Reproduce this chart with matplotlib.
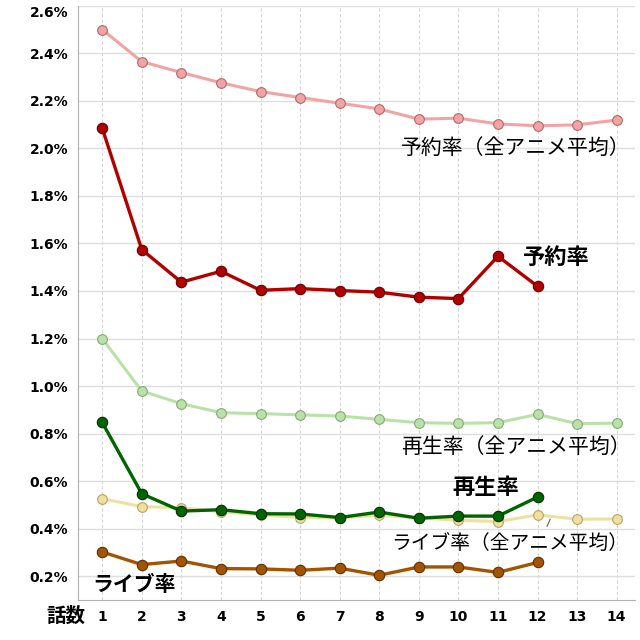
import matplotlib.pyplot as plt
from matplotlib.ticker import FuncFormatter

plt.rcParams['font.family'] = ['DejaVu Sans', 'Noto Sans CJK JP']

# episode numbers
ep_all = list(range(1, 15))
ep_show = list(range(1, 13))

# reservation rate (%)
resv_avg = [2.50, 2.365, 2.319, 2.276, 2.239, 2.214, 2.190, 2.166, 2.123, 2.127, 2.103, 2.095, 2.099, 2.119]
resv = [2.085, 1.574, 1.437, 1.483, 1.403, 1.410, 1.402, 1.395, 1.374, 1.368, 1.546, 1.420]

# play rate (%)
play_avg = [1.200, 0.979, 0.926, 0.888, 0.884, 0.879, 0.874, 0.860, 0.846, 0.843, 0.846, 0.881, 0.842, 0.844]
play = [0.847, 0.547, 0.474, 0.480, 0.463, 0.462, 0.447, 0.470, 0.444, 0.453, 0.453, 0.533]

# live rate (%)
live_avg = [0.526, 0.493, 0.488, 0.471, 0.458, 0.447, 0.445, 0.456, 0.446, 0.435, 0.430, 0.458, 0.440, 0.441]
live = [0.302, 0.249, 0.264, 0.232, 0.231, 0.225, 0.234, 0.204, 0.239, 0.239, 0.216, 0.258]

yticks = [0.2, 0.4, 0.6, 0.8, 1.0, 1.2, 1.4, 1.6, 1.8, 2.0, 2.2, 2.4, 2.6]

fig = plt.figure(figsize=(6.4, 6.4), dpi=100)
ax = fig.add_axes([0.122, 0.0625, 0.870, 0.9285])

def line(x, y, color, edge, lw=2.2, ms=7, z=2):
    ax.plot(x, y, color=color, lw=lw, marker='o', ms=ms,
            markerfacecolor=color, markeredgecolor=edge, markeredgewidth=0.8, zorder=z)

line(ep_all, resv_avg, '#f2a3a3', '#b06a6a')
line(ep_show, resv, '#b00000', '#6a0000', lw=2.4, ms=7.5, z=3)
line(ep_all, play_avg, '#b9e2a8', '#86a877')
line(ep_all, live_avg, '#efe0a0', '#b5a46a')
line(ep_show, play, '#006400', '#003000', lw=2.4, ms=7.5, z=4)
line(ep_show, live, '#a35400', '#5e3000', lw=2.4, ms=7.5, z=4)

ax.set_xlim(0.39, 14.46)
ax.set_ylim(0.1, 2.6)
ax.set_xticks(ep_all)
ax.set_yticks(yticks)
ax.yaxis.set_major_formatter(FuncFormatter(lambda v, p: f'{v:.1f}%'))
ax.tick_params(length=0, labelsize=10, pad=7)
for lab in ax.get_xticklabels() + ax.get_yticklabels():
    lab.set_fontweight('bold')
ax.get_yticklabels()[-1].set_va('top')

ax.grid(axis='y', color='#dedede', lw=1)
ax.grid(axis='x', color='#d6d6d6', lw=0.8, ls=(0, (3, 2)))
ax.set_axisbelow(True)
for s in ['top', 'right']:
    ax.spines[s].set_visible(False)
for s in ['left', 'bottom']:
    ax.spines[s].set_color('#b0b0b0')

jp = ['Noto Sans CJK JP', 'DejaVu Sans']
ax.text(14.35, 2.003, '予約率（全アニメ平均）', ha='right', va='center', fontsize=15, family=jp)
ax.text(14.35, 0.742, '再生率（全アニメ平均）', ha='right', va='center', fontsize=15, family=jp)
ax.text(14.30, 0.334, 'ライブ率（全アニメ平均）', ha='right', va='center', fontsize=14.2, family=jp)
ax.plot([12.24, 12.32], [0.410, 0.440], color='#606060', lw=0.8)
ax.text(12.48, 1.540, '予約率', ha='center', va='center', fontsize=16, fontweight='bold', family=jp)
ax.text(10.70, 0.574, '再生率', ha='center', va='center', fontsize=16, fontweight='bold', family=jp)
ax.text(1.80, 0.166, 'ライブ率', ha='center', va='center', fontsize=15, fontweight='bold', family=jp, zorder=5)
fig.text(0.103, 0.0375, '話数', ha='center', va='center', fontsize=14, fontweight='bold', family=jp)

fig.savefig('out.png', dpi=100)
